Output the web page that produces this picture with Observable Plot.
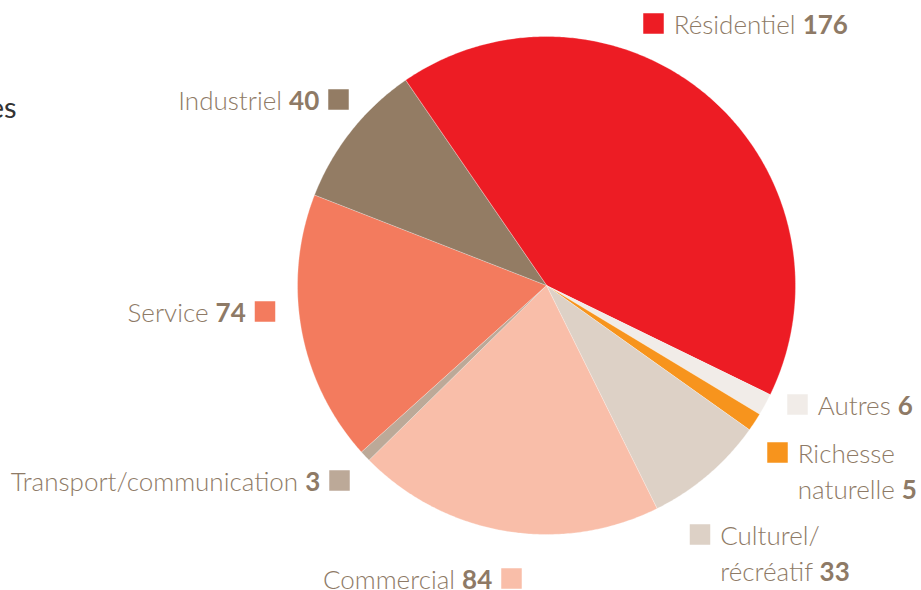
<!DOCTYPE html>
<html>
<head>
<meta charset="utf-8">
<script src="https://cdn.jsdelivr.net/npm/d3@7"></script>
<script src="https://cdn.jsdelivr.net/npm/@observablehq/plot@0.6"></script>
<style>
  html, body { margin: 0; padding: 0; background: #ffffff; }
  #chart { width: 921px; height: 590px; overflow: hidden; }
</style>
</head>
<body>
<div id="chart"></div>
<script>
// ---- data ----
const categories = ["Résidentiel", "Autres", "Richesse naturelle", "Culturel/récréatif",
                    "Commercial", "Transport/communication", "Service", "Industriel"];
const values = [176, 6, 5, 33, 84, 3, 74, 40];
const labelLines = [["Résidentiel"], ["Autres"], ["Richesse", "naturelle"], ["Culturel/", "récréatif"],
                    ["Commercial"], ["Transport/communication"], ["Service"], ["Industriel"]];
const colors = ["#ED1C24", "#F1ECE8", "#F7941D", "#DDD1C6", "#F9BEA9", "#BCA998", "#F37B5E", "#937C64"];
const fragment = ["es"];

// ---- layout (pixels) ----
const W = 921, H = 590;
const cx = 546, cy = 285, R = 249;
const startDeg = -34.5;
const markerPos = [[653, 23], [797, 404], [777, 452], [699.5, 534], [511, 578], [339, 480], [264.5, 311], [338, 99]];
const markerSide = ["right", "right", "right", "right", "left", "left", "left", "left"];
const fontSize = 26, lineHeight = 1.4, markerSize = 20.5;
const textColor = "#8E7A66";

// ---- pie geometry from values ----
const arcs = d3.pie().sort(null)
  .startAngle(startDeg * Math.PI / 180)
  .endAngle(startDeg * Math.PI / 180 + 2 * Math.PI)(values);

const piePts = [];
arcs.forEach((a, i) => {
  const name = categories[i];
  piePts.push({name, x: cx, y: cy});
  const n = Math.max(2, Math.ceil((a.endAngle - a.startAngle) / (Math.PI / 360)));
  for (let k = 0; k <= n; k++) {
    const t = a.startAngle + (a.endAngle - a.startAngle) * k / n;
    piePts.push({name, x: cx + R * Math.sin(t), y: cy - R * Math.cos(t)});
  }
});

// ---- labels ----
const labels = categories.map((name, i) => {
  const [sx, sy] = markerPos[i];
  const side = markerSide[i];
  const lines = labelLines[i].slice();
  lines[lines.length - 1] = lines[lines.length - 1] + " " + values[i];
  const n = lines.length;
  const baseline = sy + markerSize / 2;
  return {
    name, sx, sy, side,
    tx: side === "right" ? sx + markerSize / 2 + 10 : sx - markerSize / 2 - 9,
    ty: baseline + (n - 1) * lineHeight * fontSize,
    text: lines.join("\n")
  };
});

const textOpts = {x: "tx", y: "ty", text: "text", lineAnchor: "bottom", lineHeight, fontSize, fontWeight: 300, fill: textColor};

const plot = Plot.plot({
  width: W, height: H,
  margin: 0,
  x: {domain: [0, W], range: [0, W], axis: null},
  y: {domain: [0, H], range: [0, H], axis: null},
  color: {domain: categories, range: colors},
  style: {background: "transparent", fontFamily: "Lato, 'Open Sans', sans-serif", overflow: "visible"},
  marks: [
    Plot.line(piePts, {x: "x", y: "y", z: "name", fill: "name", stroke: "white", strokeWidth: 0.3, curve: "linear-closed"}),
    Plot.dot(labels, {x: "sx", y: "sy", symbol: "square", r: markerSize / Math.sqrt(Math.PI), fill: "name", stroke: null}),
    Plot.text(labels.filter((d) => d.side === "right"), {...textOpts, textAnchor: "start"}),
    Plot.text(labels.filter((d) => d.side === "left"), {...textOpts, textAnchor: "end"}),
    Plot.text(fragment, {
      x: () => 16, y: () => 117, text: (d) => d, textAnchor: "end", lineAnchor: "bottom",
      fontSize: 29, fill: "#333333"
    })
  ]
});

// bold the numeric values
plot.querySelectorAll('g[aria-label="text"] text').forEach((t) => {
  const tspans = t.querySelectorAll("tspan");
  const target = tspans.length ? tspans[tspans.length - 1] : t;
  const s = target.textContent;
  const m = s.match(/^(.*?)(\d+)$/);
  if (!m) return;
  target.textContent = m[1];
  const b = document.createElementNS("http://www.w3.org/2000/svg", "tspan");
  b.setAttribute("font-weight", "bold");
  b.textContent = m[2];
  target.appendChild(b);
});

document.getElementById("chart").appendChild(plot);
</script>
</body>
</html>
